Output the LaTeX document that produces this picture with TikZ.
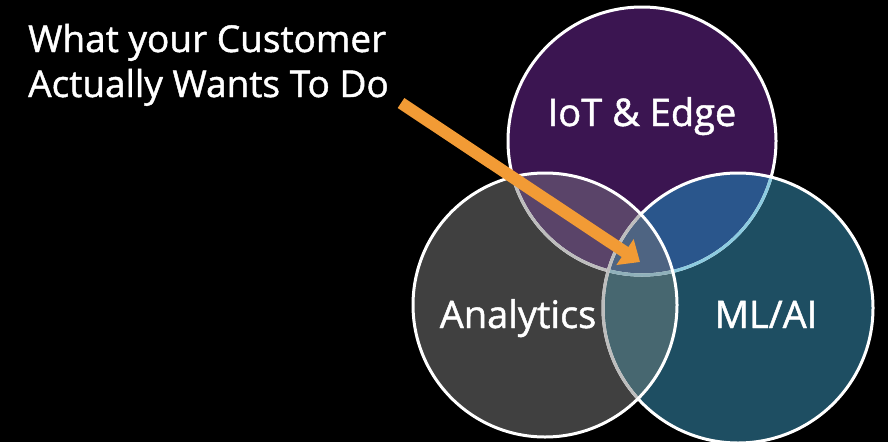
\documentclass[tikz,border=0pt]{standalone}
\usepackage{fontspec}
\setmainfont{Open Sans}[FakeBold=1.2]
\usetikzlibrary{arrows.meta, positioning}

\definecolor{iotpurple}{HTML}{3B1551}
\definecolor{anagray}{HTML}{404040}
\definecolor{mlteal}{HTML}{1E4E62}
\definecolor{iotana}{HTML}{5A4469}
\definecolor{iotml}{HTML}{2A568C}
\definecolor{anaml}{HTML}{476770}
\definecolor{allthree}{HTML}{4E6482}
\definecolor{arcgray}{HTML}{BDBDBD}
\definecolor{arcblue}{HTML}{8CCBE0}
\definecolor{arcmix}{HTML}{8FB0BA}
\definecolor{arrowgold}{HTML}{F29B35}

\begin{document}
\begin{tikzpicture}[
    x=1pt, y=-1pt,
    ring/.style={draw=white, line width=3pt},
    circletext/.style={text=white, font=\fontsize{38}{42}\selectfont, inner sep=0pt, anchor=base},
    titletext/.style={text=white, font=\fontsize{37}{45}\selectfont, inner sep=0pt, align=left, anchor=base west},
    pointer/.style={-{Triangle[length=18pt, width=30pt]}, line width=12pt, draw=arrowgold}
]
\fill[black] (0,0) rectangle (888,442);
\useasboundingbox (0,0) rectangle (888,442);

\coordinate (iot) at (642,141);
\coordinate (ana) at (545,305);
\coordinate (ml) at (738,308);
\def\riot{134}
\def\rana{132}
\def\rml{135}

% plain fills
\fill[iotpurple] (iot) circle (\riot);
\fill[mlteal] (ml) circle (\rml);
\fill[anagray] (ana) circle (\rana);

% overlaps
\begin{scope}
  \clip (iot) circle (\riot);
  \fill[iotml] (ml) circle (\rml);
  \fill[iotana] (ana) circle (\rana);
\end{scope}
\begin{scope}
  \clip (ml) circle (\rml);
  \fill[anaml] (ana) circle (\rana);
  \clip (iot) circle (\riot);
  \fill[allthree] (ana) circle (\rana);
\end{scope}

% outlines
\draw[ring] (iot) circle (\riot);
\begin{scope}
  \clip (ml) circle (\rml);
  \draw[ring, draw=arcblue] (iot) circle (\riot);
\end{scope}
\begin{scope}
  \clip (ana) circle (\rana);
  \draw[ring, draw=arcgray] (iot) circle (\riot);
  \clip (ml) circle (\rml);
  \draw[ring, draw=arcmix] (iot) circle (\riot);
\end{scope}
\draw[ring] (ml) circle (\rml);
\begin{scope}
  \clip (ana) circle (\rana);
  \draw[ring, draw=arcgray] (ml) circle (\rml);
\end{scope}
\draw[ring] (ana) circle (\rana);

% labels
\node[circletext] (iotname) at (642,126) {IoT \& Edge};
\node[circletext] (ananame) at (518,328) {Analytics};
\node[circletext] (mlname) at (766,328) {ML/AI};
\node[titletext] (ask) at (28,97) {What your Customer\\Actually Wants To Do};

% pointer
\coordinate (tail) at (401,103);
\coordinate (tip) at (640,262);
\draw[pointer] (tail) -- (tip);
\end{tikzpicture}
\end{document}
